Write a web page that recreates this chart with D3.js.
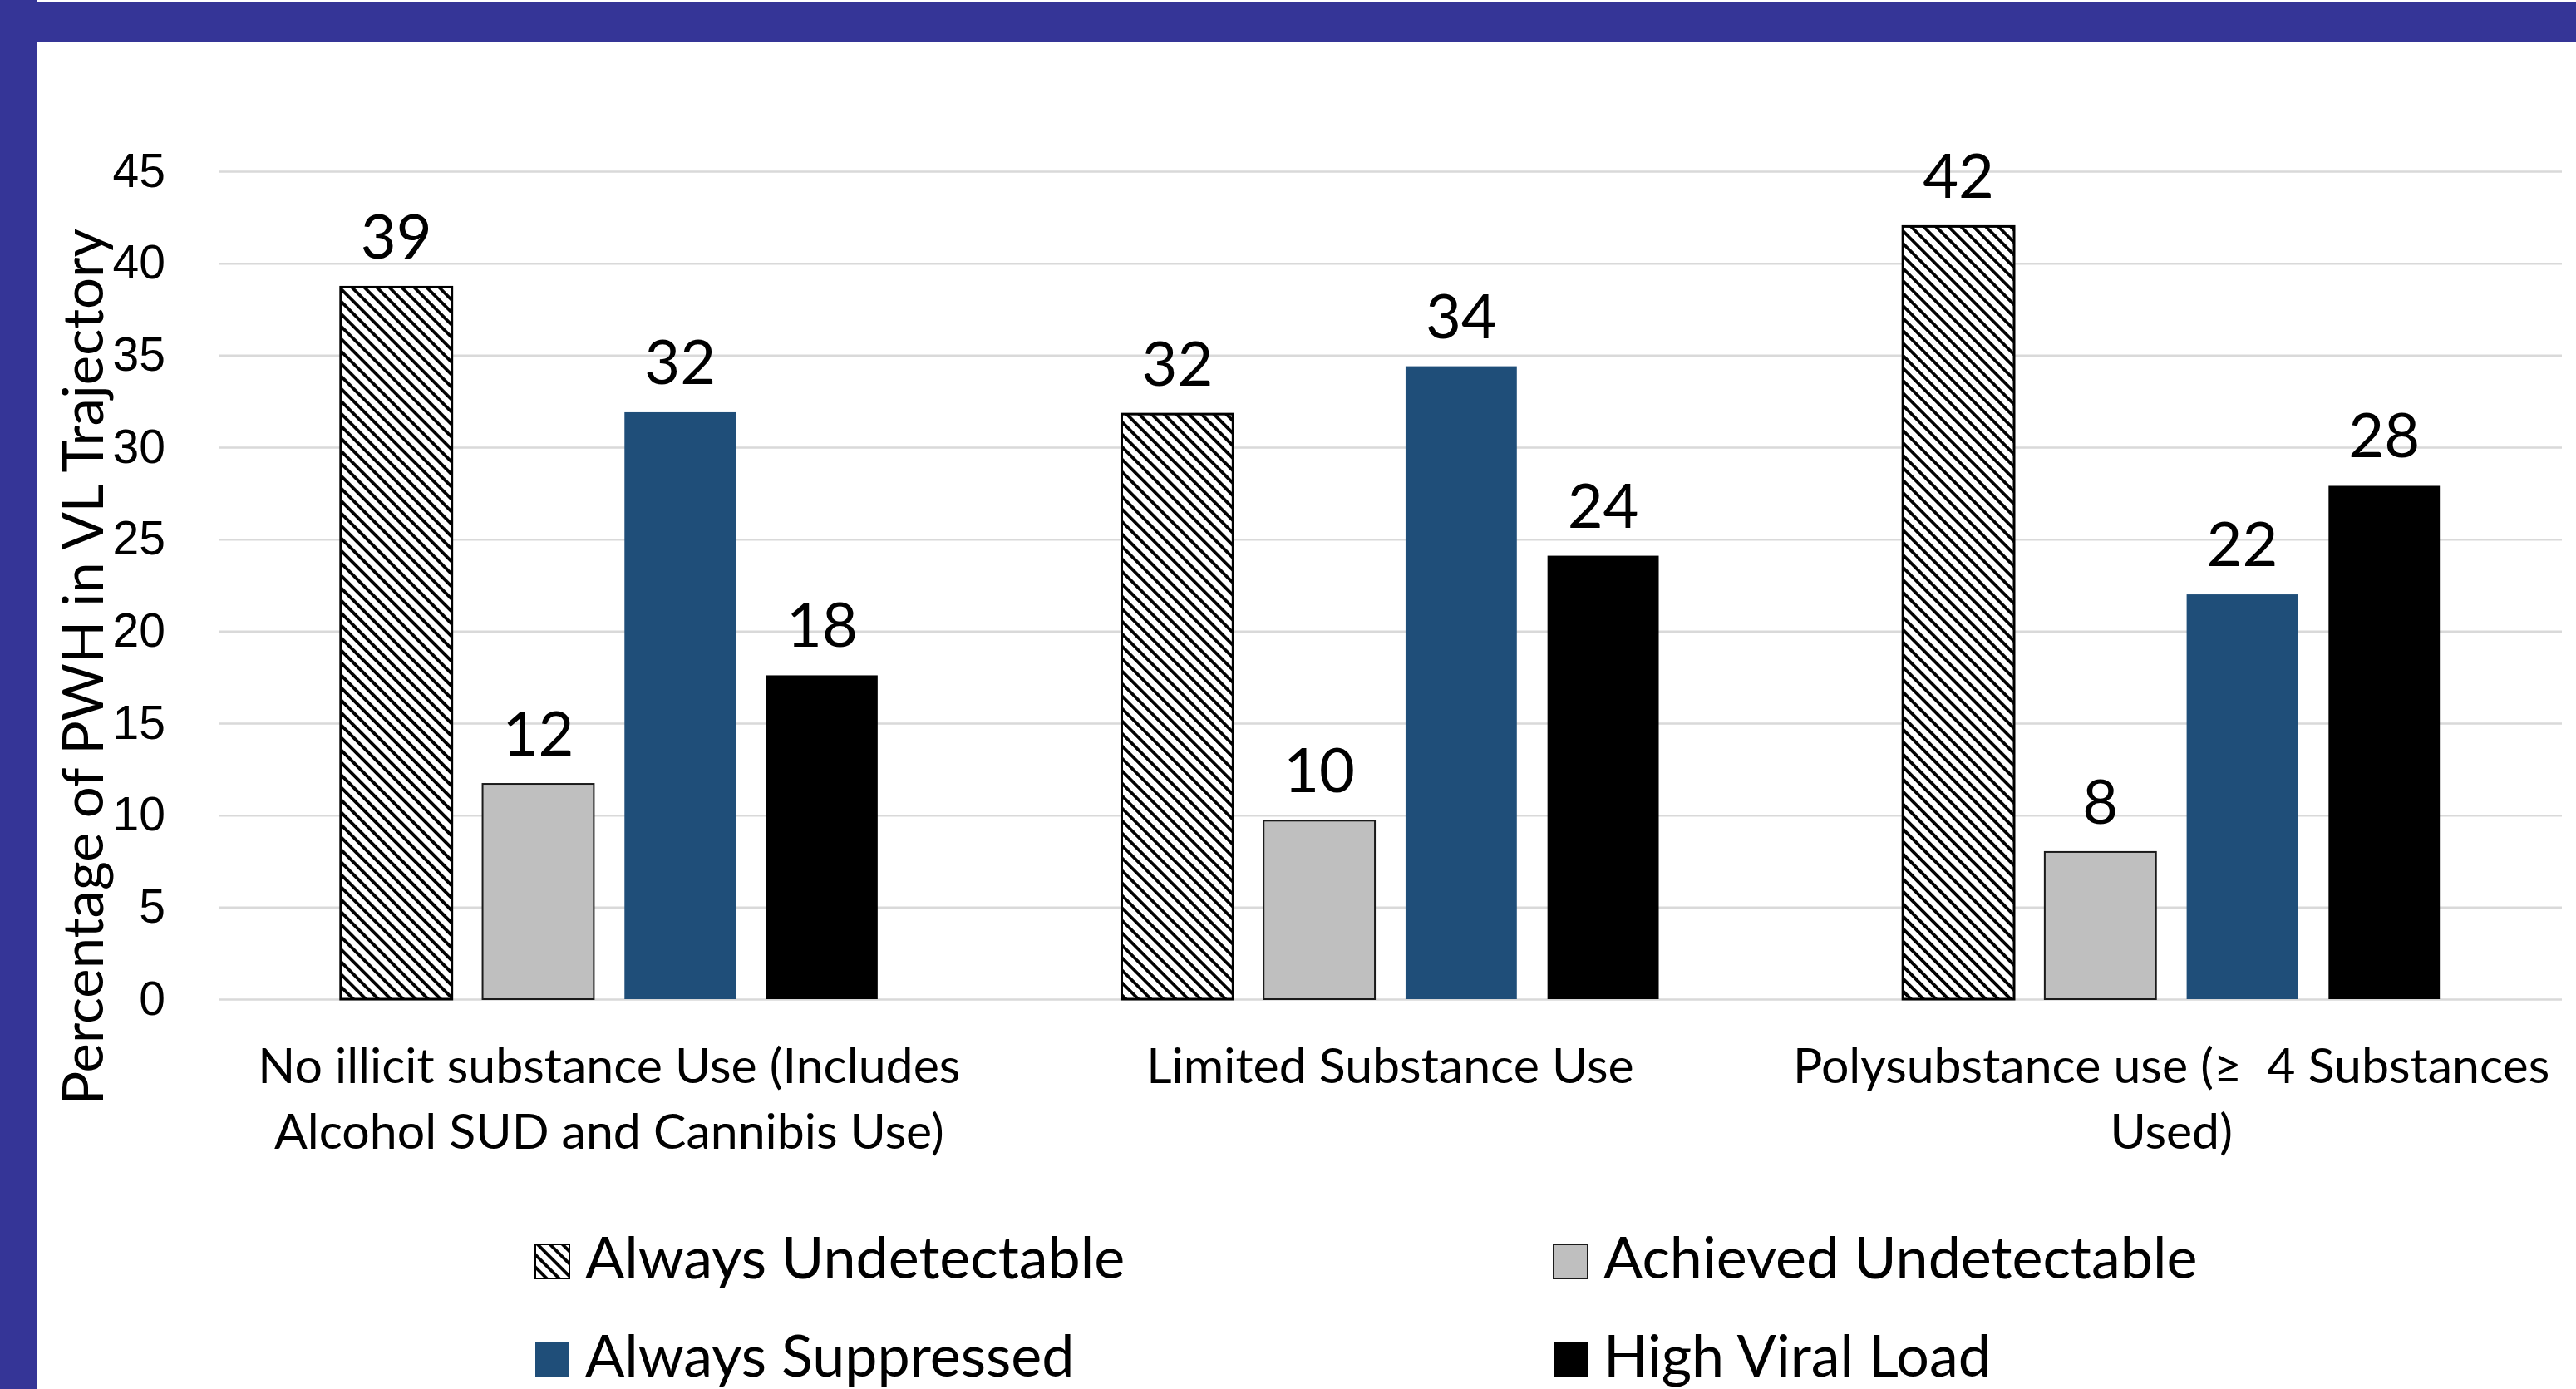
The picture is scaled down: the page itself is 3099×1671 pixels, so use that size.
<!DOCTYPE html>
<html>
<head>
<meta charset="utf-8">
<script src="https://cdn.jsdelivr.net/npm/d3@7"></script>
<style>
body { margin: 0; background: #fff; }
svg { display: block; font-family: Lato, "Open Sans", sans-serif; }
</style>
</head>
<body>
<svg></svg>
<script>
// chart data
var categories = [
    "No illicit substance Use (Includes Alcohol SUD and Cannibis Use)",
    "Limited Substance Use",
    "Polysubstance use (\u2265  4 Substances Used)"
];
var seriesNames = ["Always Undetectable", "Achieved Undetectable", "Always Suppressed", "High Viral Load"];
var alwaysUndetectable = [38.7, 31.8, 42.0];
var achievedUndetectable = [11.7, 9.7, 8.0];
var alwaysSuppressed = [31.9, 34.4, 22.0];
var highViralLoad = [17.6, 24.1, 27.9];
var yTicks = [0, 5, 10, 15, 20, 25, 30, 35, 40, 45];
var yTitle = "Percentage of PWH in VL Trajectory";

var width = 3099, height = 1671,
    plot = {left: 263, right: 3082, top: 206, bottom: 1202},
    svg = d3.select("svg").attr("width", width).attr("height", height);

var seriesValues = [alwaysUndetectable, achievedUndetectable, alwaysSuppressed, highViralLoad];
var fills = {
    "Always Undetectable": "url(#hatch)",
    "Achieved Undetectable": "#bfbfbf",
    "Always Suppressed": "#1f4e79",
    "High Viral Load": "#000000"
};
var strokes = {
    "Always Undetectable": "#000",
    "Achieved Undetectable": "#1a1a1a",
    "Always Suppressed": "none",
    "High Viral Load": "none"
};

// hatch pattern (wide downward diagonal)
svg.append("defs").append("pattern")
    .attr("id", "hatch")
    .attr("patternUnits", "userSpaceOnUse")
    .attr("width", 10.6).attr("height", 10.6)
    .attr("patternTransform", "rotate(-45)")
    .call(function(p) {
        p.append("rect").attr("width", 10.6).attr("height", 10.6).attr("fill", "#fff");
        p.append("rect").attr("width", 3.8).attr("height", 10.6).attr("fill", "#000");
    });

// frame
svg.append("rect").attr("x", 0).attr("y", 2).attr("width", width).attr("height", 49).attr("fill", "#353597");
svg.append("rect").attr("x", 0).attr("y", 0).attr("width", 45).attr("height", height).attr("fill", "#353597");

var x0 = d3.scaleBand().domain(categories).range([plot.left, plot.right]);
var x1 = d3.scaleBand().domain(seriesNames).range([0, x0.bandwidth()])
    .paddingInner(0.216).paddingOuter(0.86);
var y = d3.scaleLinear().domain([0, 45]).range([plot.bottom, plot.top]);

// y axis + gridlines
var yAxis = svg.append("g")
    .attr("transform", "translate(" + plot.left + ",0)")
    .call(d3.axisLeft(y).tickValues(yTicks).tickSize(-(plot.right - plot.left)).tickPadding(64));
yAxis.select(".domain").remove();
yAxis.selectAll(".tick line").attr("stroke", "#d9d9d9").attr("stroke-width", 2.5);
yAxis.selectAll(".tick text").attr("font-size", 57).attr("fill", "#000").attr("font-family", null);

svg.append("text")
    .attr("transform", "translate(124,802) rotate(-90)")
    .attr("text-anchor", "middle")
    .attr("font-size", 67)
    .text(yTitle);

// bars
var rows = [];
seriesNames.forEach(function(s, i) {
    categories.forEach(function(c, j) {
        rows.push({series: s, cat: c, value: seriesValues[i][j]});
    });
});

svg.append("g").selectAll("rect")
    .data(rows)
    .enter().append("rect")
    .attr("x", function(d) { return x0(d.cat) + x1(d.series); })
    .attr("y", function(d) { return y(d.value); })
    .attr("width", x1.bandwidth())
    .attr("height", function(d) { return y(0) - y(d.value); })
    .attr("fill", function(d) { return fills[d.series]; })
    .attr("stroke", function(d) { return strokes[d.series]; })
    .attr("stroke-width", function(d) { return d.series == "Always Undetectable" ? 3 : 2; });

svg.append("g").selectAll("text")
    .data(rows)
    .enter().append("text")
    .attr("x", function(d) { return x0(d.cat) + x1(d.series) + x1.bandwidth() / 2; })
    .attr("y", function(d) { return y(d.value) - 34; })
    .attr("text-anchor", "middle")
    .attr("font-size", 74)
    .text(function(d) { return Math.round(d.value); });

// category labels, wrapped to the band width
var catLabels = svg.append("g").selectAll("text")
    .data(categories)
    .enter().append("text")
    .attr("x", function(d) { return x0(d) + x0.bandwidth() / 2; })
    .attr("y", 1303)
    .attr("text-anchor", "middle")
    .attr("font-size", 59)
    .style("white-space", "pre");

catLabels.each(function(d) {
    var text = d3.select(this),
        words = d.split(" "),
        cx = text.attr("x"),
        line = [],
        tspan = text.append("tspan").attr("x", cx).attr("dy", 0);
    words.forEach(function(w) {
        line.push(w);
        tspan.text(line.join(" "));
        if (tspan.node().getComputedTextLength() > x0.bandwidth() - 10 && line.length > 1) {
            line.pop();
            tspan.text(line.join(" "));
            line = [w];
            tspan = text.append("tspan").attr("x", cx).attr("dy", 79).text(w);
        }
    });
});

// legend
var legendX = [644, 1869], legendY = [1497, 1615];
var legend = svg.append("g").selectAll("g")
    .data(seriesNames)
    .enter().append("g")
    .attr("transform", function(d, i) {
        return "translate(" + legendX[i % 2] + "," + legendY[Math.floor(i / 2)] + ")";
    });

legend.append("rect")
    .attr("width", 41).attr("height", 41)
    .attr("fill", function(d) { return fills[d]; })
    .attr("stroke", function(d) { return strokes[d]; })
    .attr("stroke-width", 2);

legend.append("text")
    .attr("x", 60)
    .attr("y", 41)
    .attr("font-size", 70)
    .text(function(d) { return d; });
</script>
</body>
</html>
